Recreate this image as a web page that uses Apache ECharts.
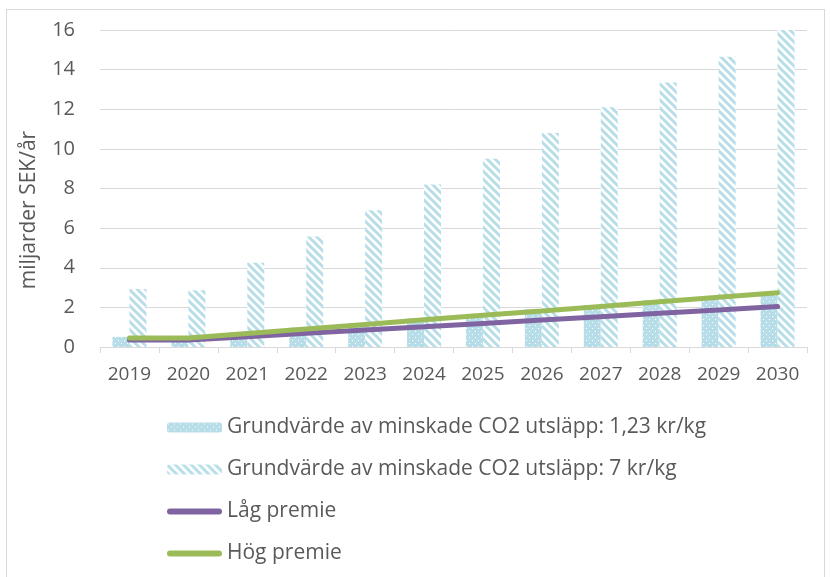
<!DOCTYPE html>
<html>
<head>
<meta charset="utf-8">
<script src="https://cdn.jsdelivr.net/npm/echarts@6/dist/echarts.min.js"></script>
<style>
  html, body { margin: 0; padding: 0; background: #fff; }
  #frame { position: absolute; left: 6px; top: 9px; width: 817px; height: 600px; border: 1px solid #d9d9d9; }
  #chart { position: absolute; left: 0; top: 0; width: 831px; height: 577px; }
</style>
</head>
<body>
<div id="frame"></div>
<div id="chart"></div>
<script>
// år på x-axeln
const years = ["2019", "2020", "2021", "2022", "2023", "2024", "2025", "2026", "2027", "2028", "2029", "2030"];
// grundvärde 1,23 kr/kg (prickade staplar)
const base123 = [0.51, 0.5, 0.74, 0.98, 1.21, 1.44, 1.67, 1.9, 2.12, 2.35, 2.57, 2.78];
// grundvärde 7 kr/kg (randiga staplar)
const base7 = [2.93, 2.87, 4.25, 5.58, 6.9, 8.2, 9.5, 10.8, 12.1, 13.35, 14.65, 16.0];
// låg premie
const lowPremium = [0.35, 0.35, 0.52, 0.69, 0.86, 1.02, 1.19, 1.36, 1.53, 1.7, 1.87, 2.04];
// hög premie
const highPremium = [0.45, 0.45, 0.68, 0.91, 1.14, 1.37, 1.6, 1.82, 2.05, 2.28, 2.51, 2.74];

// mönster för staplarna
function dotPattern() {
  const c = document.createElement("canvas");
  c.width = 6; c.height = 6;
  const g = c.getContext("2d");
  g.fillStyle = "#b7dee8";
  g.fillRect(0, 0, 6, 6);
  g.fillStyle = "#ffffff";
  g.fillRect(1, 1, 1, 1);
  g.fillRect(4, 4, 1, 1);
  return { image: c, repeat: "repeat" };
}
function hatchPattern() {
  const c = document.createElement("canvas");
  c.width = 8; c.height = 8;
  const g = c.getContext("2d");
  g.fillStyle = "#ffffff";
  g.fillRect(0, 0, 8, 8);
  g.strokeStyle = "#b7dee8";
  g.lineWidth = 3;
  g.beginPath();
  g.moveTo(-2, -2); g.lineTo(10, 10);
  g.moveTo(-6, 2); g.lineTo(2, 10);
  g.moveTo(2, -6); g.lineTo(10, 2);
  g.stroke();
  return { image: c, repeat: "repeat" };
}

const chart = echarts.init(document.getElementById("chart"), null, { renderer: "canvas" });
const font = "'Open Sans', 'Noto Sans', sans-serif";
const names = [
  "Grundvärde av minskade CO2 utsläpp: 1,23 kr/kg",
  "Grundvärde av minskade CO2 utsläpp: 7 kr/kg",
  "Låg premie",
  "Hög premie",
];
// tjock linje med rundade ändar som legendikon
const lineIcon = "path://M3,0 L52,0 A3,3 0 0 1 52,6 L3,6 A3,3 0 0 1 3,0 Z";

chart.setOption({
  animation: false,
  textStyle: { fontFamily: font },
  grid: { left: 100, right: 24, top: 30, bottom: 230 },
  graphic: [
    {
      type: "text",
      x: 29,
      y: 210,
      rotation: Math.PI / 2,
      style: {
        text: "miljarder SEK/år",
        fontSize: 21,
        fontFamily: font,
        fill: "#595959",
        align: "center",
        verticalAlign: "middle",
      },
    },
  ],
  legend: {
    orient: "vertical",
    left: 162,
    top: 412,
    itemWidth: 55,
    itemHeight: 10,
    itemGap: 21,
    padding: 5,
    textStyle: { fontSize: 21, color: "#595959", fontFamily: font },
    data: [
      { name: names[0] },
      { name: names[1] },
      { name: names[2], icon: lineIcon },
      { name: names[3], icon: lineIcon },
    ],
  },
  xAxis: {
    type: "category",
    data: years,
    axisLine: { lineStyle: { color: "#d9d9d9", width: 1 } },
    axisTick: { show: true, length: 6, lineStyle: { color: "#d9d9d9" } },
    axisLabel: { fontSize: 19, color: "#595959", margin: 18, interval: 0 },
  },
  yAxis: {
    type: "value",
    min: 0,
    max: 16,
    interval: 2,
    axisLabel: { fontSize: 20, color: "#595959", margin: 25 },
    splitLine: { lineStyle: { color: "#d9d9d9", width: 1 } },
    axisLine: { show: false },
    axisTick: { show: false },
  },
  series: [
    {
      name: names[0],
      type: "bar",
      data: base123,
      barWidth: 17,
      barGap: "0%",
      itemStyle: { color: dotPattern() },
    },
    {
      name: names[1],
      type: "bar",
      data: base7,
      barWidth: 17,
      barGap: "0%",
      itemStyle: { color: hatchPattern() },
    },
    {
      name: names[2],
      type: "line",
      data: lowPremium,
      symbol: "none",
      z: 5,
      lineStyle: { color: "#8064a2", width: 5, cap: "round" },
      itemStyle: { color: "#8064a2" },
    },
    {
      name: names[3],
      type: "line",
      data: highPremium,
      symbol: "none",
      z: 6,
      lineStyle: { color: "#9bbb59", width: 5, cap: "round" },
      itemStyle: { color: "#9bbb59" },
    },
  ],
});
</script>
</body>
</html>
